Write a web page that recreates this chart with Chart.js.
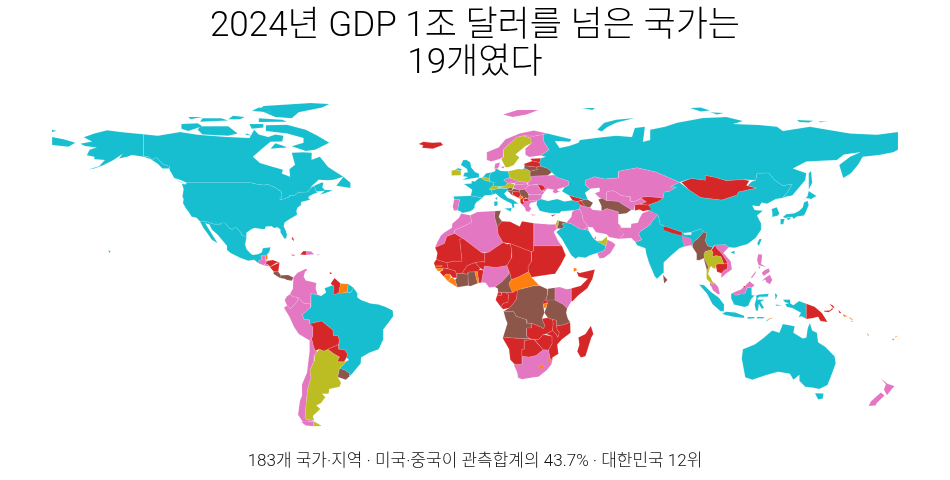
<!DOCTYPE html>
<html lang="ko">
<head>
<meta charset="utf-8">
<title>2024년 GDP 1조 달러를 넘은 국가</title>
<script src="https://cdn.jsdelivr.net/npm/chart.js@4/dist/chart.umd.min.js"></script>
<style>
  html, body { margin: 0; padding: 0; background: #fff; }
  #wrap { width: 950px; height: 480px; }
</style>
</head>
<body>
<div id="wrap"><canvas id="map"></canvas></div>
<script>
'use strict';

//Text
const titleLines = ['2024년 GDP 1조 달러를 넘은 국가는', '19개였다'];
const footerLine = '183개 국가·지역 · 미국·중국이 관측합계의 43.7% · 대한민국 12위';

//Country outlines, read as lon,lat pairs
const usa = [-124.7,48.4,-123,48.3,-122.8,49,-95.2,49,-94.6,48.7,-92,48.2,-89.6,48,-88.4,48.3,-84.9,46.9,-84.5,46.5,-83.6,46.1,-83.5,45.8,-82.5,45.3,-82.1,43.6,-82.5,42.6,-83.1,42.2,-82.7,41.7,-78.9,42.9,-79.2,43.5,-76.8,43.6,-75,44.9,-71.5,45,-70.8,45.4,-70.3,46.2,-69.2,47.4,-68.2,47.3,-67.8,45.7,-67,44.8,-69,44,-70.7,43.1,-70.8,42.2,-70,41.7,-71.5,41.4,-74,40.7,-74,39.5,-75.5,38.4,-76,37,-75.7,35.3,-77.5,34.2,-79,33.4,-81,32,-81.4,30.5,-80.5,28.4,-80,26.8,-80.4,25.2,-81.2,25.2,-81.8,26.2,-82.8,27.8,-82.8,29,-84,30,-85.5,29.7,-86.5,30.4,-89,30.3,-89.4,29.2,-90.5,29.2,-93.8,29.7,-95,29.2,-97.2,27.7,-97.2,26,-99.1,26.4,-99.5,27.5,-101.4,29.8,-102.7,29.7,-103.2,29,-104.5,29.6,-106.5,31.8,-108.2,31.8,-108.2,31.3,-111,31.3,-114.8,32.5,-117.1,32.5,-118.5,34,-120.6,34.5,-121.9,36.6,-123,38,-124.3,40.3,-124,42,-124.5,43,-124,46.3];
const alaska = [-141,69.6,-141,60.3,-139,60,-137.5,58.9,-135.5,59.7,-133,57,-130,55.9,-130,55,-133,55,-135,57,-138,59,-141,60,-146,60.8,-148,60,-151.5,59.3,-150,61.2,-154,58.5,-158,56.5,-162,55,-164.5,54.6,-160,56,-157.5,58.7,-162,59,-162,60,-165.2,60.7,-164,63,-161,64,-166,64.6,-168,65.6,-163,66.5,-166.5,68.3,-162,70,-156.5,71.3,-150,70.5];
const hawaii = [-156,20.2,-155,19.6,-155.7,19];
const canada = [-141,69.6,-135,69,-125.5,70.6,-118,69.4,-105.5,68.5,-96,68,-94,71.5,-92,69.5,-88,68.5,-85,69.5,-81.5,69,-82,66.5,-87,66.4,-90,64,-94.5,60,-91.5,57.4,-88,56.3,-81.7,54.5,-82.2,52.9,-78.7,51.5,-79,54.7,-76.6,56.6,-78,61.7,-73,62,-69.4,61.7,-69.5,58.8,-66,60,-62.5,55.7,-56,51.5,-60,50.2,-63,50,-66.5,50.2,-70,47,-65,49.2,-64.5,48.5,-65,47,-64,46,-61,45.8,-60.4,46,-61.5,45.3,-66,43.8,-64,45.5,-67,45.2,-67.8,45.7,-68.2,47.3,-69.2,47.4,-70.3,46.2,-70.8,45.4,-71.5,45,-75,44.9,-76.8,43.6,-79.2,43.5,-78.9,42.9,-82.7,41.7,-83.1,42.2,-82.5,42.6,-82.1,43.6,-82.5,45.3,-83.5,45.8,-83.6,46.1,-84.5,46.5,-84.9,46.9,-88.4,48.3,-89.6,48,-92,48.2,-94.6,48.7,-95.2,49,-122.8,49,-125,50,-128,51,-130,54.5,-130,55.9,-133,57,-135.5,59.7,-137.5,58.9,-139,60,-141,60.3];
const baffin = [-62,66,-68,63,-72,62.5,-78,64.5,-73,66,-73,68,-80,70,-89,71,-89,73.5,-80,73.7,-72,71.5,-67,69];
const victoria = [-105,69,-116,69.5,-118,71.5,-117,73,-105,73,-101,70];
const ellesmere = [-62,82.5,-70,83,-90,81.7,-92,80,-85,77,-78,76.5,-75,79,-65,81];
const banks = [-125,72,-122,71,-116,73,-118,74.3,-125,74];
const devon = [-80,75,-92,74.8,-92,76.5,-82,75.8];
const axelHeiberg = [-87,79,-95,79.5,-92,81,-88,80.7];
const melville = [-105,75.5,-117,75,-116,76.5,-108,76.5];
const somerset = [-90,72.5,-95,72,-96,74,-90,74];
const bathurst = [-100,76,-105,76,-103,77.5,-98,77];
const princePatrick = [-116,77,-121,76,-122,77];
const southampton = [-80,64,-87,63.5,-85,65.8,-81,64.5];
const kingWilliam = [-95,69,-98,69.5,-97,70];
const newfoundland = [-59,47.7,-53,46.7,-53,49,-56,51.5];
const vancouver = [-128,50.7,-123.5,48.4,-125,49];
const mexico = [-117.1,32.5,-114.8,32.5,-111,31.3,-108.2,31.3,-108.2,31.8,-106.5,31.8,-104.5,29.6,-103.2,29,-102.7,29.7,-101.4,29.8,-99.5,27.5,-99.1,26.4,-97.2,26,-97.8,22.5,-97.2,20.6,-95.5,18.8,-94.5,18.2,-92,18.6,-90.7,19.3,-90.3,21,-87,21.5,-87.5,19.5,-88.3,18.5,-89.2,17.8,-91,17.8,-91,17.2,-90.4,16.1,-91.7,16,-92.2,14.6,-94,16.1,-96.5,15.7,-100,17,-104,19,-105.6,20.4,-105.5,22,-108,25,-109.4,26.7,-112,29,-113,31.2,-114.8,31.7,-113,28.8,-111.3,26,-109.5,23.2,-112,24.7,-114,27.5,-115.5,29.6];
const brazil = [-51.7,4.2,-50,1.7,-50,0,-48.5,-1,-44.5,-2.5,-41,-3,-38,-4,-35,-5.5,-34.8,-8,-37,-11,-39,-13.5,-39,-17.8,-41,-22,-45,-23.5,-48.5,-25.5,-48.6,-28,-52,-32.2,-53.4,-33.7,-53.2,-32.5,-55.6,-30.8,-57.6,-30.2,-55,-27.5,-53.7,-26.6,-54.6,-25.5,-54.3,-24,-55.5,-22.3,-58,-22,-57.8,-18,-58.3,-16.3,-60.2,-16.3,-60.5,-13.8,-65.3,-10,-69.5,-11,-70.5,-11,-70.5,-9.5,-72.7,-9.4,-73.5,-7.3,-70,-4.2,-69.9,-4.2,-69.8,1.7,-67,1.2,-65.5,0.7,-63.4,2.2,-64,4,-60.7,5.2,-60,5,-59.8,1.3,-58,2,-56.5,1.9,-54.4,2.3,-52.9,2.2];
const frenchGuiana = [-54,5.8,-51.7,4.2,-52.9,2.2,-54.4,2.3];
const uk = [-5.5,50.1,1.3,51.2,1.7,52.8,0,53.5,-1.6,55.5,-2,57.6,-3.5,58.6,-5,58.6,-6,56.5,-3.5,54.9,-3,53.4,-4.5,53.2,-5,51.7,-3,51.4];
const northIreland = [-5.6,54.7,-6.2,54.1,-7.6,54.2,-7.3,55.2];
const france = [-1.8,43.4,3.1,42.5,4,43.5,7.5,43.8,7,45.9,6,46.2,7.6,47.6,8.2,49,6.4,49.5,4.2,50,2.5,51.1,1.6,50.9,0,49.5,-1.5,49.7,-1.5,48.6,-4.7,48.4,-1.2,46];
const corsica = [8.6,42.3,9.5,43,9.4,41.5];
const spain = [-9.2,43.1,-1.8,43.4,3.1,42.5,0.5,40.5,-0.3,39,0,38.7,-0.7,37.7,-2,36.8,-5.3,36.1,-6.4,36.8,-7.4,37.2,-7,39.6,-6.5,41.7,-8.8,41.9];
const germany = [6,50.8,6.1,51.8,7,53.3,8.7,54,8.6,54.9,9.5,54.8,11,54,14.2,53.9,14.7,51,12.2,50.3,13.8,48.7,13,47.6,10,47.3,7.6,47.6,8.2,49,6.4,49.5];
const netherlands = [3.4,51.4,6,50.8,6.1,51.8,7,53.3,4.8,53];
const italy = [7,45.9,7.5,43.8,8.8,44.4,10.5,42.9,12.3,41.7,15.6,40,16,38,17,39,16.6,40,18.5,40,16,41.8,14,42.5,12.4,44.3,13.7,45.6,13.7,46.5,10.4,46.6];
const sicily = [12.5,38,15.6,38.2,15.2,36.7];
const sardinia = [8.2,41,9.7,41,9.6,39.2,8.5,39];
const russia = [28,60.6,30,60,28,59.4,27.5,57.6,28,56,31,55,32.7,53.4,33.8,52.3,35,51.2,40,49.6,39.7,47.8,38.2,47.1,37,45.3,40,43.5,43.5,42.6,46.5,41.8,48,41.7,47.5,43,46.8,44.7,48.9,46.2,47,48,46.8,48.4,47,50,51,51.5,55,50.6,61,51,61,53.9,69,55.3,77,53.5,87,49.2,92,50.8,98,50,98,52,102,51.3,107,49.8,114,50.3,119.5,50,120,53,125,53.1,127.5,50,131,47.7,135,48.4,133,45,130.8,42.5,132,43,135,43.5,140.5,50,141,53,135.3,55,141,58,154,58.7,157,61,164,62,159.6,60,155,56.5,156.7,51,160,53,163,56.6,165,60,172,60.8,178,62,180,63,180,70.6,171,69.4,159.6,70,142.5,72.8,131,71,128.5,72.8,121,73.6,110,74,114,75.3,107,77,97,76.6,86,74.5,80.8,72.8,74.5,71.5,74.5,67.2,71.5,66.4,72.3,72.8,68,72.3,66.8,68.5,60,69,54,68.3,44.7,67.2,44,66,40,64.6,36,63.8,34,66.7,40.4,66.4,41,67.5,33,69.4,31,70,29,69.5,29,67,31.5,63];
const chukotka = [-180,65,-173,64.3,-170,66,-175,67.5,-180,68.5];
const wrangel = [-180,71.5,-178,71,-180,70.6];
const sakhalin = [142,46,143.5,49,143,54,142,53];
const novayaZemlya = [52,71.5,55,74.5,60,75.8,68,76.6,60,74.5,56,72.5,54,70.8];
const franzJosef = [45.5,80.8,51,80.8,50,80];
const severnaya = [91.5,80.8,96,81,100,79.8,96,79.3];
const bolshevik = [100,79,106,78.7,103,78];
const newSiberia = [137,75.7,144,75.4,142,74.6,138,74.8];
const newSiberiaEast = [146,75.2,150,75,147,74.7];
const kaliningrad = [20,54.4,22.8,54.4,21,55.2];
const turkey = [26,40,26.3,41.3,28,42,31,41.2,35,42,38,41,41.5,41.5,43.5,41,44.8,39.7,44.5,37.7,42.3,37.2,36.7,36.8,36,36,32.5,36,30,36.4,27.5,37];
const saudi = [36.5,29.4,34.6,28,37,25,39,21.5,41,18,42.8,16.5,44,17.4,47,17,48.9,18,52,19,55,20,55.7,22,51.6,24.2,50.2,25.5,48.4,28.5,46.5,29.1,44.7,29.2,41,31.5,39,32,37,31.5,38,30];
const india = [77.8,35.5,75.4,32.5,74.5,31,70,28,69.6,27,71,24.6,68.2,23.7,69,22.3,72.5,21,72.8,19,74,15,76.5,9,77.5,8,80,10.5,80.3,15,83,17.5,87,21,89,21.8,91.8,22.4,92.5,22.5,93.3,24,94.7,25,97.3,28,96,29.3,92,27.8,92,26.8,89,26.8,88.8,27.5,88.1,27.8,81,30.3,78.8,31.3,78,35];
const china = [73.8,39.5,78,41,80,42.5,80.5,45,82.5,45.2,85.7,47.1,83,47.2,87,49.2,91,46,96,42.7,105,41.6,111.5,43.7,112,45,119.7,46.7,116,47.8,117.8,49.5,119.5,50,120,53,125,53.1,127.5,50,131,47.7,135,48.4,133,45,130.8,42.5,128,42,124.3,40,122,40.5,121,38.9,118,39.2,119,37.3,122.5,37,120,35,121.8,31.5,121.8,29,119.5,25.5,116,22.8,110.5,21.2,108,21.5,106.7,22.5,102,22.4,101.2,21.5,99,22,98,24.2,98.7,27.5,97.3,28,96,29.3,92,27.8,88.8,27.5,88.1,27.8,81,30.3,78.8,31.3,78,35,74,37];
const hainan = [108.7,19.3,110.5,20,110.5,18.5];
const taiwan = [121,25,122,25,120.8,22,120.1,23];
const southKorea = [126.2,37.8,128.4,38.5,129.5,36,129,35,126.5,34.4,126.5,36.5];
const honshu = [131,34.3,132.5,35.5,136,36,138,37,139.5,38.5,140,40.5,141.5,41.3,142,39.5,140.8,36.5,140,35,137,34.6,135.5,33.5,135,34.5,132,33.9];
const kyushu = [130,33.5,131.7,33.5,131.2,31.3,130.2,31.3];
const shikoku = [132.5,33.8,134.6,34.2,133.5,33];
const hokkaido = [140,41.5,141.5,43.3,142,45.4,145.3,43.3,143,42,141,42.5];
const kalimantan = [109,1.5,109.6,2,111,1,113,1.5,114.8,1.5,115.8,4.3,117.7,4.2,117.8,1,119,1,117.5,-0.7,116.3,-3.5,114.7,-4,110.2,-3,109.1,-0.5];
const sumatra = [95.3,5.6,97.5,5.2,100.3,2.5,103.7,0,106,-3,105.9,-5.8,104.5,-5.8,101,-2.7,98.7,1.7];
const java = [105.2,-6.8,106.8,-6,110.8,-6.4,114.5,-7.8,114.4,-8.7,110,-8.2,106.5,-7.4];
const sulawesi = [119.5,0.8,120.8,1.3,125,1.6,124.5,0.4,121,0.4,120,-0.8,123.3,-0.9,121.5,-1.8,123,-4.5,122,-4.8,120.8,-2.7,120.4,-5.6,119.5,-5.5,119,-3,119.8,0];
const sumbawa = [116,-8.3,119,-8.3,119,-8.8,116,-9];
const flores = [120,-8.3,123,-8.3,123,-8.8,120,-8.9];
const westTimor = [123.5,-10.3,124.9,-9,125,-9.6];
const halmahera = [127.5,2,128.7,1,128,-0.7,127.8,0.5];
const seram = [128,-3,130.8,-3.4,128,-3.5];
const papua = [131,-0.9,134,-0.8,134.2,-2.5,135.5,-3.3,137.9,-1.5,141,-2.6,141,-9.1,139,-8,137.7,-8.4,138.7,-6.5,135,-4.4,132.8,-4,132,-2.8,133.5,-2.4,132,-2];
const australia = [114,-22,113.5,-26,115,-34,118,-35,124,-33,129,-31.6,134,-32.5,135.5,-35,138,-33,138,-35.5,140.5,-38,144,-38.5,146.5,-39,150,-37.3,151.5,-33.5,153.5,-28,153,-25,149,-21,146,-19,145.5,-15,143.5,-14,142.5,-10.8,141.6,-13,141,-17,139.5,-17.5,135.5,-15,136,-12.2,131,-11.3,129.5,-15,126.5,-14,122.5,-17.5,119,-20];
const tasmania = [144.7,-40.8,148.3,-40.9,148,-43,146,-43.5];

const argentina = [-66.3,-21.9,-64.3,-22.8,-62.6,-22,-60,-24,-57.6,-25.3,-58.6,-27.3,-55.7,-27.4,-53.7,-26.6,-55,-27.5,-57.6,-30.2,-58.4,-33.9,-57,-36.3,-57.6,-38,-62,-39,-62.3,-41,-65,-41,-63.7,-42.5,-65.5,-45,-67.5,-46,-65.8,-47.5,-69,-50.5,-68.4,-52.3,-71.9,-52,-72.3,-50.7,-71.8,-44,-71.2,-39,-69.8,-34,-70.3,-31,-68.5,-27,-68.3,-24.5,-67,-23];
const tierraArgentina = [-68.6,-52.7,-65.2,-54.8,-68.6,-54.9];
const ireland = [-10,52,-6.3,52.2,-6,53.9,-7.6,54.2,-7.3,55.3,-8.5,54.4,-10,54.2];
const belgium = [2.5,51.1,3.4,51.4,6,50.8,6.4,49.5,4.2,50];
const switzerland = [6,46.2,7,45.9,10.4,46.6,9.6,47.5,7.6,47.6];
const austria = [9.6,47.5,10.4,46.9,13.7,46.5,16.2,46.9,17,48.1,15,49,13.8,48.7,13,47.6,10,47.3];
const sweden = [11.2,59,13,55.6,14.3,55.6,16.5,56.5,18.9,59.8,17.2,61,21.4,64.5,24,65.8,23.7,68,20.5,69,18,68.5,15.5,66.3,14,65,12,63,12.2,60];
const poland = [14.2,53.9,18.5,54.8,22.8,54.4,23.5,53.9,23.6,51.5,24,50.4,22.6,49.1,19,49.4,14.7,51];
const israel = [34.3,31.3,34.9,29.5,35.4,31,35.6,33.2,35,33];
const uae = [51.6,24.2,55.7,22,56.4,24.7,56.2,26,54,24.2];
const thailand = [97.4,18.5,98,19.7,100.5,20.3,101.3,19.5,101,17.5,102.6,17.9,104.7,17.5,105.5,15.5,105.9,14.3,103.3,14.3,102.5,13.7,102.5,12.2,101,12.7,100.5,13.5,99.9,12.5,99.2,10,100.3,8.5,101,6.8,102,6.2,101,5.7,100,6.5,98.3,8.2,98.5,10.5,99.3,13,98.3,15.3,97.5,16.5];

const colombia = [-77.3,8.6,-75.5,10.6,-72,12.3,-71.3,11.8,-72.3,11,-72.9,9,-72,7.3,-70,6.9,-67.5,6.2,-67.8,4,-67,1.2,-69.8,1.7,-69.9,-4.2,-70.7,-3.8,-70,-2.7,-72.9,-2.4,-75.2,-0.1,-77.4,0.4,-78.8,1.4,-77.5,3.8,-77.4,7];
const ecuador = [-75.2,-0.1,-77.4,0.4,-78.8,1.4,-80.1,0.5,-81,-1,-80,-3.4,-78.5,-4.8,-75.6,-1.6];
const peru = [-81.3,-4.3,-80,-3.4,-78.5,-4.8,-75.6,-1.6,-75.2,-0.1,-72.9,-2.4,-70,-2.7,-70,-4.2,-73.5,-7.3,-72.7,-9.4,-70.5,-9.5,-70.5,-11,-69,-12.5,-69,-16.5,-69.5,-17.5,-70.4,-18.3,-75,-15.5,-77,-12.5,-78.8,-8.5];
const chile = [-70.4,-18.3,-69.5,-17.5,-68.8,-20.4,-67.9,-22.8,-67,-23,-68.3,-24.5,-68.5,-27,-70.3,-31,-69.8,-34,-71.2,-39,-71.8,-44,-72.3,-50.7,-71.9,-52,-68.4,-52.3,-73,-53.5,-75.3,-50,-74.5,-44,-73.5,-41.5,-73.6,-37,-71.5,-32,-70.4,-23];
const tierraChile = [-68.6,-52.7,-68.6,-54.9,-72,-54.5,-74,-53];
const guatemala = [-92.2,14.6,-91.7,16,-90.4,16.1,-91,17.2,-91,17.8,-89.2,17.8,-89.2,15.9,-88.2,15.7,-89.2,14.5,-90,13.8];
const elSalvador = [-90,13.8,-89.2,14.4,-87.8,13.9,-87.8,13.2];
const dominicanRep = [-71.7,19.7,-72,18.1,-68.4,18.5,-69.9,19.7];
const puertoRico = [-67.2,18.4,-65.6,18.3,-67,18];
const norway = [5,58.7,7,58,8.7,58.5,10.8,59.2,12.2,60,12,63,14,65,15.5,66.3,18,68.5,20.5,69,25,68.8,29,69.5,31,70,25,71.2,19,70,13,67.5,10,64,5,62];
const svalbard = [12,78,16,77,22,78,27,80,18,80];
const finland = [24,65.8,21.4,63.5,21.4,61,23,59.9,28,60.6,31.5,63,29,67,29,69.5,25,68.8,20.5,69,23.7,68];
const denmark = [8.2,55,8.6,57.1,10.6,57.7,10.3,56,9.6,54.9];
const zealand = [11,55.7,12.6,56,12.1,55];
const portugal = [-8.8,41.9,-6.5,41.7,-7,39.6,-7.4,37.2,-8.9,37,-9.5,38.7];
const czechia = [12.2,50.3,14.7,51,18.8,49.6,17,48.7,15,49,13.8,48.7];
const slovakia = [17,48.1,17,48.7,18.8,49.6,19,49.4,22.6,49.1,22,48.4];
const hungary = [16.2,46.9,17,48.1,22,48.4,22.9,47.9,21,46.2,18.5,45.8];
const greece = [20,39.7,21,40.9,23,41.3,26.3,41.3,26,40.8,23.5,40.3,23,39,24,38,23,36.5,21.7,36.8,21.2,38.3];
const crete = [23.6,35.5,26.3,35.2,24.5,35];
const bulgaria = [22.4,42.3,23,43,22.8,44,27,44,28.6,43.6,28,42,26.3,41.3,23,41.3];
const romania = [21,46.2,22.9,47.9,26.6,48.2,28.2,45.5,29.7,45.2,28.6,43.7,27,44,22.8,44,22.5,44.5];
const ukraine = [22.6,49.1,24,50.4,23.6,51.5,25,51.8,30.9,52,33.8,52.3,35,51.2,40,49.6,39.7,47.8,38.2,47.1,35,46.2,35.4,45.3,36.5,45.3,34,44.4,33,45.2,33.6,46,30.8,46.5,29.7,45.2,28.2,45.5,30,46.4,29,47.8,26.6,48.3,22.9,47.9];
const morocco = [-5.9,35.8,-2,35.1,-1.3,32.2,-3.7,30.9,-8.7,28.7,-8.7,27.3,-12,26,-13,23,-17,21.3,-16,23.7,-14.5,26.5,-12.9,27.9,-9.8,29.8,-9.7,31.5,-6.8,34];
const algeria = [-2,35.1,1,36.5,8.6,36.9,8.3,34.6,9.5,30.2,9.9,27,11.9,23.5,6,19.4,3,19,-4.8,25,-8.7,27.3,-8.7,28.7,-3.7,30.9,-1.3,32.2];
const egypt = [25,31.7,32,31.2,34.3,31.3,34.9,29.5,33.5,28,35.5,24,37,22,25,22];
const nigeria = [2.7,6.4,3.6,11.7,4,13.5,9,12.8,13.6,13.7,14.2,12,14.5,10,11.5,6.7,8.5,4.5,6,4.3,4.5,6.3];
const kenya = [34,-1,34,4.2,36,4.5,39,3.5,41,3.9,41,-1.7,39.2,-4.7,37.6,-3];
const southAfrica = [17,-28.5,20,-28.4,20,-25,23,-25.3,26,-24.7,29,-22.2,31.3,-22.4,32,-26,32.9,-26.8,32.5,-28.5,30.5,-31,27,-33.8,25,-34,20,-34.8,18.3,-34.2,18,-32,16.5,-28.6];
const iran = [44.5,37.7,44.8,39.7,46.2,38.9,49,38.4,50,37.4,54,37,56,38,61,36.6,61,31.5,61.8,30.8,63.3,27,61.5,25,57,25.8,56,27,51.5,27.8,50,30,48.5,30,46,33,45.5,35.8];
const iraq = [42.3,37.2,44.5,37.7,45.5,35.8,46,33,48.5,30,47.5,30,46.5,29.1,44.7,29.2,41,31.5,39,32,41,34.5,41.3,36.5];
const oman = [52,19,55,20,55.7,22,56.4,24.7,58.6,23.6,59.8,22.5,57.7,19,55,17,53,16.7];
const qatar = [50.8,24.8,51.6,25,51.3,26.1,50.9,26];
const kuwait = [46.5,29.1,48.4,28.5,48,30,47.5,30];
const kazakhstan = [47,50,46.8,48.4,48.9,46.2,49.5,46.5,53,46.8,53,45.2,51,44.5,52.8,42.7,56,41.3,56,45,58.6,45.6,61,44.4,62,43.5,66,43,66,41,68,41,70.9,42.2,71,42.8,74,43,80,42.5,80.5,45,82.5,45.2,85.7,47.1,83,47.2,87,49.2,77,53.5,69,55.3,61,53.9,61,51,55,50.6,51,51.5];
const uzbekistan = [56,41.3,56,45,58.6,45.6,61,44.4,62,43.5,66,43,66,41,68,41,70.9,42.2,73,40.8,71,40,68,39.5,67.5,37.2,66.5,37.4,62.5,39.9,61,41,57,41.3];
const pakistan = [60.9,29.8,66.3,29.8,66.5,31.5,69.3,31.9,70,33.7,71.2,36,74,37,77.8,35.5,75.4,32.5,74.5,31,70,28,69.6,27,71,24.6,68.2,23.7,66.5,25.4,61.6,25.1,63.3,27];
const bangladesh = [88.2,26.4,89,26,92,25,92.6,21.5,91.8,22.4,89,21.8,88.2,24.5];
const vietnam = [102.2,22.4,106.7,22.5,108,21.5,105.7,19,108.8,15.5,109.3,12,107,10.4,105,8.6,104.8,10.4,106,11.7,107.5,12.4,107.5,14.6,106.8,16,105,18.8,104.3,19.5,103,20.8];
const malayPeninsula = [100,6.5,101,5.7,102,6.2,103.5,4.5,104.2,1.5,103.4,1.4,101.3,3,100.4,5];
const malayBorneo = [109.6,2,111.5,2.8,113,3.3,115,5,116.8,7,119,5.2,117.7,4.2,115.8,4.3,114.8,1.5,113,1.5,111,1,109.6,1.6];
const luzon = [120.5,18.5,122.2,18.4,122,16,121.7,14.3,124,13,120.7,13.8,120,16];
const mindanao = [122,7,123.5,8.5,125.5,9.7,126.5,7.5,125.5,5.7,124,6.5,123.5,7.7];
const visayas = [122,10.5,123,11.5,125,12.5,125.5,11,124,10,122.9,9.2];
const palawan = [117.3,8.4,119.5,11.3,119.5,10.5,118,8.5];
const mindoro = [120.5,13.4,121.5,13,121,12.2];
const nzNorth = [172.8,-34.5,175.5,-36.7,178.5,-37.7,177,-39.5,175.3,-41.6,174,-39.3,174.8,-37];
const nzSouth = [172.7,-40.5,174.3,-41.7,171,-45,170.5,-46,167.5,-46.2,168.5,-44.2];

const costaRica = [-85.7,11.1,-83.7,11,-82.6,9.5,-83,8.3,-85.7,10];
const panama = [-83,8.3,-82.6,9.5,-79.5,9.6,-77.3,8.6,-77.9,7.2,-80,7.5,-81,8];
const uruguay = [-57.6,-30.2,-55.6,-30.8,-53.2,-32.5,-53.4,-33.7,-55,-35,-58.4,-33.9];
const lithuania = [21,56.2,26,55.7,26.7,54.6,23.5,53.9,22.8,54.4,21,55.2];
const belarus = [23.5,53.9,26.7,54.6,26,55.7,28,56,31,55,32.7,53.4,30.9,52,25,51.8,23.6,51.5];
const slovenia = [13.7,45.6,13.7,46.5,16.2,46.9,15.5,45.5];
const croatia = [13.6,45.4,15.5,45.5,16.5,46.5,18.9,45.8,19,45,16,45.2,15.8,44.2,17.6,43,18.5,42.5,15.5,43.8,14.5,45];
const serbia = [18.9,45.9,21,46.2,22.5,44.5,23,43,22.4,42.3,20.5,42.9,19.3,43.5,19,45];
const azerbaijan = [46.5,41.8,48,41.7,50.2,40.4,49,38.4,46.2,38.9,46.5,39.5,45,41.2];
const turkmenistan = [52.5,41.8,54,42.3,56,41.3,57,41.3,61,41,62.5,39.9,66.5,37.4,64.5,36,61,35.5,61,36.6,56,38,54,37,53.8,39];
const jordan = [34.9,29.5,36.5,29.4,38,30,37,31.5,39,32,36,32.6,35.6,32.7,35.4,31];
const myanmar = [92.6,21.5,94.3,18.8,94.3,16,95.5,15.9,97.3,16.8,98.6,12,98.5,10.5,99.3,13,98.3,15.3,97.5,16.5,97.4,18.5,98,19.7,100.5,20.3,101.2,21.5,99,22,98,24.2,98.7,27.5,97.3,28,94.7,25,93.3,24,92.5,22.5];
const sriLanka = [80,9.7,81.9,7.5,80.5,6];
const tunisia = [8.6,36.9,11,37,10.1,34.3,11.5,32.5,9.5,30.2,8.3,34.6];
const ivoryCoast = [-8.5,7.5,-7.7,8.4,-8,10.2,-5.5,10.4,-3,9.9,-2.8,5.1,-7.5,4.4];
const ghana = [-3,10.9,0,11,0.6,8,1.2,6.1,-2,4.8,-2.8,5.1,-3,9.9];
const cameroon = [8.5,4.5,11.5,6.7,14.5,10,14.2,12,15,10,15.5,7.6,14.5,6.2,16,2.2,13,2.2,9.8,2.3,9.7,3.9];
const drc = [12.2,-5.8,12.2,-6,16.5,-6,17.5,-8,22,-9.5,22,-11,24,-11,25.5,-11.5,28,-12.5,29,-13.3,29.8,-12,28.5,-9,29.5,-6.5,29,-2.5,30,-1.4,30.8,1,31,2.3,30.8,3.5,27.4,5.1,25,5,19,3.5,18,3.5,17.7,-0.5,16,-3,14.5,-4.5];
const angola = [12.2,-6,16.5,-6,17.5,-8,22,-9.5,22,-11,24,-11,24,-13,22,-13,22,-16.5,23.4,-17.6,18.5,-17.4,13.5,-17,11.8,-17.3,13.8,-11,13,-9];
const tanzania = [29.5,-6.5,30.3,-4.3,30.8,-2.3,30.5,-1,34,-1,37.6,-3,39.2,-4.7,38.8,-6.5,39.5,-9,40.5,-10.5,37.5,-11.7,34.7,-12,34.5,-9.7,33,-9.4,31,-8.6];
const uganda = [30,-1.4,30.5,-1,34,-1,34,4.2,31,3.8,30.8,1];

const honduras = [-89.2,14.5,-88.2,15.7,-86,16,-83.2,15,-84.7,14.7,-87.3,13,-87.8,13.9];
const nicaragua = [-87.3,13,-83.2,15,-83.7,11,-85.7,11.1];
const haiti = [-74.4,18.4,-72,18.1,-71.7,19.7,-73,19.9];
const jamaica = [-78.3,18.4,-76.3,18.1,-77.5,17.8];
const bahamas = [-78,25,-77,24,-77.5,26];
const trinidad = [-61.8,10.8,-61,10.6,-61,10.1,-61.8,10.1];
const guyana = [-59.8,8.3,-57.2,6,-58,2,-59.8,1.3,-60,5,-60.7,5.2,-61.4,6];
const bolivia = [-69.5,-11,-65.3,-10,-60.5,-13.8,-60.2,-16.3,-58.3,-16.3,-57.8,-18,-58,-20,-62.6,-22,-64.3,-22.8,-66.3,-21.9,-67.9,-22.8,-68.8,-20.4,-69.5,-17.5,-69,-16.5,-69,-12.5,-70.5,-11];
const paraguay = [-58,-20,-58,-22,-55.5,-22.3,-54.3,-24,-54.6,-25.5,-55.7,-27.4,-58.6,-27.3,-57.6,-25.3,-60,-24,-62.6,-22];
const iceland = [-24,65.5,-22,66.4,-18,66,-14.6,66.2,-13.6,65,-18,63.5,-22.6,63.9,-22,64.8];
const estonia = [23.5,59.2,28,59.4,27.5,57.6,24.4,58.2];
const latvia = [21,57,24.4,58.2,27.5,57.6,28,56,26,55.7,21,56.2];
const bosnia = [16,45.2,19,45,19.3,43.5,18.5,42.5,17.6,43,15.8,44.2];
const kosovo = [20.1,42.7,21,43.2,21.7,42.4,20.6,42];
const albania = [19.3,41.9,20.4,42.6,20.5,41,21,40.3,20,39.7,19.4,40.5];
const macedonia = [20.5,41.9,22.4,42.3,23,41.3,21,40.9];
const moldova = [26.6,48.3,29,47.8,30,46.4,28.2,45.5];
const cyprus = [32.3,35,34.5,35.6,33,34.6];
const georgia = [40,43.5,43.5,42.6,46.5,41.8,43.5,41,41.5,41.5];
const armenia = [43.5,41,45,41.2,46.5,39.5,46.2,38.9,44.8,39.7];
const kyrgyzstan = [70.9,42.2,71,42.8,74,43,80,42.5,78,41,73.8,39.5,70,39.7,71,40,73,40.8];
const tajikistan = [68,39.5,71,40,70,39.7,73.8,39.5,75,37.5,71.5,36.8,70,37.6,67.8,37];
const mongolia = [87.8,49.2,92,50.8,98,50,98,52,102,51.3,107,49.8,114,50.3,116.7,49.8,115.5,47.8,119.7,46.7,112,45,111.5,43.7,105,41.6,96,42.7,91,46];
const nepal = [80.2,28.8,80.2,30.2,81,30.3,88.1,27.8,88.1,26.4,84,27.4];
const laos = [100.6,20.2,102.2,22.4,103,20.8,104.3,19.5,105,18.8,106.8,16,107.5,14.6,105.9,14.3,105.5,15.5,104.7,17.5,102.6,17.9,101,17.5,101.3,19.5];
const cambodia = [102.5,13.7,103.3,14.3,105.9,14.3,107.5,14.6,107.5,12.4,106,11.7,104.8,10.4,103,11];
const brunei = [114,4.6,115,5,115.1,4.2];
const png = [141,-2.6,144.5,-3.9,147,-6,147.7,-6.7,150,-10.4,147,-10,146,-8.2,143.5,-8.8,141,-9.1];
const newBritain = [148.5,-5.6,151,-5.5,152.2,-4.2,152.3,-5,150.5,-6.3,148.5,-5.9];
const newIreland = [150.8,-2.6,152.5,-3.5,153,-4.7,152,-4];
const bougainville = [154.6,-5.2,156,-6.7,155,-6.6];
const libya = [11.5,32.5,15,32.3,19,30.3,20,32.5,25,31.7,25,20,24,19.5,15,23,11.9,23.5,9.9,27,9.5,30.2];
const sudan = [24,19.5,25,20,25,22,37,22,38.6,18,36.5,14,34,10,33,10,31,9.7,28,9.3,24,8.7,22.8,11,22.5,13,24,15.5];
const mauritania = [-17,21.3,-13,23,-12,26,-8.7,27.3,-4.8,25,-6.5,25,-5.5,15.5,-9.3,15.5,-12,14.8,-16.5,16.2,-16,19];
const mali = [-4.8,25,3,19,4.2,19,4.2,15,3.5,15.4,0,14.9,-3.2,13.7,-5.5,10.4,-8,10.2,-8.4,11.4,-11.4,12.2,-12,14.8,-9.3,15.5,-5.5,15.5,-6.5,25];
const senegal = [-16.5,16.2,-12,14.8,-11.4,12.4,-16.7,12.4,-17.5,14.7];
const guinea = [-13.7,12.6,-11.4,12.2,-8.4,11.4,-8,10.2,-7.7,8.4,-9.5,8.4,-10.7,10,-12.5,9.9,-13.3,9,-15,10.9,-13.7,11.7];
const benin = [1,11,1,12,3.6,11.7,2.7,6.4,1.7,6.2];
const burkina = [-5.5,10.4,-3.2,13.7,0,14.9,2.3,12.5,1,11,0,11,-3,10.9,-3,9.9];
const niger = [0,14.9,3.5,15.4,4.2,15,4.2,19,6,19.4,11.9,23.5,14,22.7,15,23,15.7,19.9,15.5,16.9,13.6,13.7,9,12.8,4,13.5,3.6,11.7,2.3,12.5];
const chad = [15,23,24,19.5,24,15.5,22.5,13,22.8,11,19,9,15.5,7.6,15,10,14.2,12,13.6,13.7,15.5,16.9,15.7,19.9];
const eqGuinea = [9.8,2.3,11.3,2.2,11.3,1,9.4,1];
const gabon = [9.4,1,11.3,1,11.3,2.2,13,2.2,14.3,1.3,14,-2,12,-2.5,11,-4,8.8,-1];
const congo = [11,-4,12,-2.5,14,-2,14.3,1.3,13,2.2,16,2.2,18,3.5,17.7,-0.5,16,-3,14.5,-4.5,12,-5];
const namibia = [11.8,-17.3,13.5,-17,18.5,-17.4,25,-17.8,23.4,-18,21,-18.3,21,-22,20,-22,20,-28.4,17,-28.5,15,-26.5,14.5,-22];
const botswana = [20,-22,21,-22,21,-18.3,25,-17.8,29,-22.2,26,-24.7,23,-25.3,20,-25];
const zimbabwe = [25.2,-17.8,27,-17.9,29,-15.7,32.8,-16.5,32.9,-19.5,31.3,-22.4,29,-22.2];
const zambia = [22,-13,24,-13,24,-11,25.5,-11.5,28,-12.5,29,-13.3,29.8,-12,28.5,-9,31,-8.6,33,-9.4,33.3,-11,33,-14,30.3,-15.5,29,-15.7,27,-17.9,25.2,-17.8,23.4,-17.6,22,-16.5];
const malawi = [33,-9.4,34.5,-9.7,34.7,-12,35,-14,35.9,-14.7,35.3,-17,34.4,-15.5,33,-14,33.3,-11];
const mozambique = [40.5,-10.5,40.7,-15,37,-17.8,35,-20,35.5,-24,33,-25.5,32.9,-26.8,32,-26,31.3,-22.4,32.9,-19.5,32.8,-16.5,30.3,-15.5,33,-14,34.4,-15.5,35.3,-17,35.9,-14.7,35,-14,34.7,-12,37.5,-11.7];
const rwanda = [29,-2.8,29,-1.4,30.5,-1,30.8,-2.3];
const somalia = [41,-1.5,41,3.9,42,4.2,45,5,48,8,44,9,43.3,11,44.5,10.5,51,12,50,8,47.8,4,44,1,41.5,-1.6];
const madagascar = [49.3,-12,50.4,-15.5,49.5,-17,47,-25,45,-25.5,43.5,-23,44.4,-20,44,-17,47,-15.5];

const belize = [-89.2,17.8,-88.3,18.5,-88.2,16.5,-89.2,15.9];
const suriname = [-57.2,6,-54,5.8,-54.4,2.3,-56.5,1.9,-58,2];
const montenegro = [18.5,42.5,19.3,43.5,20.3,42.9,19.3,41.9];
const gambia = [-16.8,13.6,-14,13.7,-14,13.2,-16.8,13.1];
const guineaBissau = [-16.7,12.4,-13.7,12.6,-13.7,11.7,-15.7,11.2];
const sierraLeone = [-13.3,9,-12.5,9.9,-10.7,10,-10.3,8.4,-11.4,6.9];
const liberia = [-11.4,6.9,-10.3,8.4,-9.5,8.4,-8.5,7.5,-7.5,4.4];
const togo = [0,11,1,11,1.7,6.2,1.2,6.1,0.6,8];
const car = [14.5,6.2,15.5,7.6,19,9,22.8,11,24,8.7,27.4,5.1,25,5,19,3.5,16,2.2,14.5,5];
const burundi = [29,-2.8,30.8,-2.3,30.3,-4.3,29.4,-4.4];
const lesotho = [27,-29.6,28.7,-28.6,29.4,-29.5,28.2,-30.6];
const eswatini = [30.9,-26.3,31.9,-25.9,32.1,-27,31,-27.3];
const djibouti = [42,12.7,43.3,12.4,43.3,11.5,42,11];
const timorLeste = [125,-9,127.3,-8.4,125,-9.5];
const solomonA = [156.5,-7,158.5,-8,157,-8.2];
const solomonB = [159,-8.2,161,-9.5,160,-9.4];
const solomonC = [160,-9.8,161.3,-10.4,160.2,-10.2];
const vanuatu = [167,-15,167.8,-16.5,167,-16];
const fijiA = [177.3,-17.5,178.6,-17.8,178,-18.3];
const fijiB = [178.8,-16.7,180,-16.2,179,-17];

//GDP bands, biggest first. Each band is drawn in one colour.
const bandOver1T = [usa, alaska, hawaii, canada, baffin, victoria, ellesmere, banks, devon, axelHeiberg, melville, somerset, bathurst, princePatrick, southampton, kingWilliam, newfoundland, vancouver, mexico, brazil, frenchGuiana, uk, northIreland, france, corsica, spain, germany, netherlands, italy, sicily, sardinia, russia, chukotka, wrangel, sakhalin, novayaZemlya, franzJosef, severnaya, bolshevik, newSiberia, newSiberiaEast, kaliningrad, turkey, saudi, india, china, hainan, taiwan, southKorea, honshu, kyushu, shikoku, hokkaido, kalimantan, sumatra, java, sulawesi, sumbawa, flores, westTimor, halmahera, seram, papua, australia, tasmania];
const band500B = [argentina, tierraArgentina, ireland, belgium, switzerland, austria, sweden, poland, israel, uae, thailand];
const band100B = [colombia, ecuador, peru, chile, tierraChile, guatemala, elSalvador, dominicanRep, puertoRico, norway, svalbard, finland, denmark, zealand, portugal, czechia, slovakia, hungary, greece, crete, bulgaria, romania, ukraine, morocco, algeria, egypt, nigeria, kenya, southAfrica, iran, iraq, oman, qatar, kuwait, kazakhstan, uzbekistan, pakistan, bangladesh, vietnam, malayPeninsula, malayBorneo, luzon, mindanao, visayas, palawan, mindoro, nzNorth, nzSouth];
const band50B = [costaRica, panama, uruguay, lithuania, belarus, slovenia, croatia, serbia, azerbaijan, turkmenistan, jordan, myanmar, sriLanka, tunisia, ivoryCoast, ghana, cameroon, drc, angola, tanzania, uganda];
const band10B = [honduras, nicaragua, haiti, jamaica, bahamas, trinidad, guyana, bolivia, paraguay, iceland, estonia, latvia, bosnia, kosovo, albania, macedonia, moldova, cyprus, georgia, armenia, kyrgyzstan, tajikistan, mongolia, nepal, laos, cambodia, brunei, png, newBritain, newIreland, bougainville, libya, sudan, mauritania, mali, senegal, guinea, benin, burkina, niger, chad, eqGuinea, gabon, congo, namibia, botswana, zimbabwe, zambia, malawi, mozambique, rwanda, somalia, madagascar];
const bandUnder10B = [belize, suriname, montenegro, gambia, guineaBissau, sierraLeone, liberia, togo, car, burundi, lesotho, eswatini, djibouti, timorLeste, solomonA, solomonB, solomonC, vanuatu, fijiA, fijiB];

const bands = [bandOver1T, band500B, band100B, band50B, band10B, bandUnder10B];
const bandColors = ['#17becf', '#bcbd22', '#e377c2', '#8c564b', '#d62728', '#ff7f0e'];

//Turns a flat lon,lat list into chart points and closes the ring
function toPoints(flat) {
  let points = [];
  for (let i = 0; i < flat.length; i += 2) {
    points.push({ x: flat[i], y: flat[i + 1] });
  }
  points.push(points[0]);
  return points;
}

let datasets = [];
bands.forEach((band, i) => {
  band.forEach(shape => {
    datasets.push({
      data: toPoints(shape),
      showLine: true,
      fill: 'shape',
      tension: 0,
      pointRadius: 0,
      backgroundColor: bandColors[i],
      borderColor: 'rgba(255,255,255,0.22)',
      borderWidth: 0.5
    });
  });
});
//Chart.js paints the first dataset last, and small countries need to sit on top
datasets.reverse();

new Chart(document.getElementById('map'), {
  type: 'scatter',
  data: { datasets: datasets },
  options: {
    responsive: true,
    maintainAspectRatio: false,
    animation: false,
    layout: { padding: { left: 52, right: 52, top: 0, bottom: 0 } },
    scales: {
      x: { type: 'linear', min: -180, max: 180, display: false },
      y: { type: 'linear', min: -60, max: 85, display: false }
    },
    plugins: {
      legend: { display: false },
      tooltip: { enabled: false },
      title: {
        display: true,
        text: titleLines,
        color: '#000',
        font: { family: 'Roboto, "Noto Sans CJK KR"', size: 35, weight: '300', lineHeight: 1.06 },
        padding: { top: 9, bottom: 15 }
      },
      subtitle: {
        display: true,
        position: 'bottom',
        text: footerLine,
        color: '#111',
        font: { family: 'Roboto, "Noto Sans CJK KR"', size: 17, weight: '300', lineHeight: 1.1 },
        padding: { top: 14, bottom: 9 }
      }
    }
  }
});
</script>
</body>
</html>
